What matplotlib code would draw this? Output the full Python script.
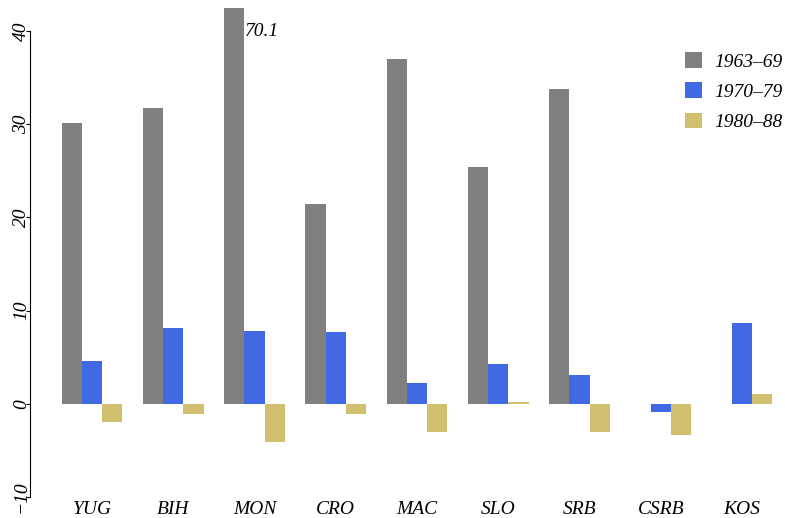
import numpy as np
import matplotlib
matplotlib.use("Agg")
import matplotlib.pyplot as plt

# data
regions = ["YUG", "BIH", "MON", "CRO", "MAC", "SLO", "SRB", "CSRB", "KOS"]
p1963 = [30.1, 31.7, 70.1, 21.4, 37.0, 25.4, 33.8, 0.0, 0.0]
p1970 = [4.6, 8.15, 7.8, 7.7, 2.25, 4.3, 3.1, -0.9, 8.7]
p1980 = [-1.9, -1.1, -4.1, -1.1, -3.0, 0.2, -3.0, -3.3, 1.0]
labels = ["1963\u201369", "1970\u201379", "1980\u201388"]
yticks = [-10, 0, 10, 20, 30, 40]

plt.rcParams['font.family'] = ['Liberation Serif', 'DejaVu Serif']
plt.rcParams['font.style'] = 'italic'
plt.rcParams['font.size'] = 14

fig = plt.figure(figsize=(7.85, 5.18), dpi=100)
W, H = 785, 518
ax = fig.add_axes([30 / W, (H - 497) / H, (785 - 30) / W, (497 - 8) / H])

x = np.arange(len(regions))
w = 0.25
cols = ["#808080", "#4169E1", "#CFBF6F"]
ax.bar(x - w, p1963, w, color=cols[0], label=labels[0])
ax.bar(x, p1970, w, color=cols[1], label=labels[1])
ax.bar(x + w, p1980, w, color=cols[2], label=labels[2])

ax.set_ylim(-10, 42.47)
ax.set_xlim(-0.763, -0.763 + 755 / 81.25)

# clipped bar value
ax.text(2 - w / 2 + 0.01, 40, "70.1", ha="left", va="center")

for s in ["top", "right", "bottom"]:
    ax.spines[s].set_visible(False)
ax.spines["left"].set_bounds(-10, 40)
ax.set_yticks(yticks)
ax.set_yticklabels([str(t).replace("-", "\u2212") for t in yticks], rotation=90, va="center")
ax.tick_params(axis="y", length=3, pad=-3)
ax.set_xticks(x)
ax.set_xticklabels(regions)
ax.tick_params(axis="x", length=0, pad=3)

ax.legend(loc="upper left", bbox_to_anchor=((685 - 30) / 755, (497 - 52) / 489),
          frameon=False, borderpad=0, borderaxespad=0,
          handlelength=0.875, handleheight=0.875, handletextpad=0.62,
          labelspacing=0.6)

fig.savefig("out.png", dpi=100)
